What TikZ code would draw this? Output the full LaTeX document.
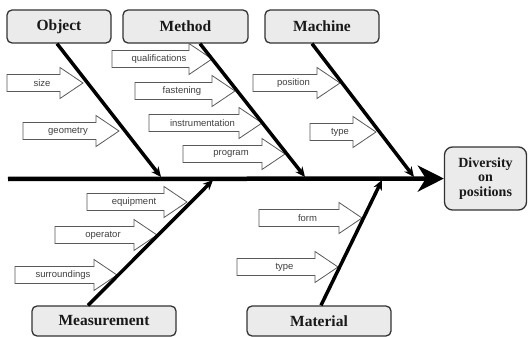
\documentclass[tikz,border=0pt]{standalone}
\usepackage{fontspec}
\setmainfont{Liberation Serif}
\newfontfamily\causefont{Liberation Sans}
\usetikzlibrary{arrows.meta}

% one hollow cause arrow: name, left x, tip x, y, text
\newcommand{\factor}[5]{%
  \draw[hollow] (#2,#4-8.5) -- (#3-23,#4-8.5) -- (#3-23,#4-15.5) -- (#3,#4)
      -- (#3-23,#4+15.5) -- (#3-23,#4+8.5) -- (#2,#4+8.5) -- cycle;
  \node[causetext] (#1) at ({(#2+#3)/2-3},#4) {#5};
}

\begin{document}
\begin{tikzpicture}[x=1pt,y=-1pt,
    cat/.style={draw=black!80,line width=1.3pt,rounded corners=5pt,fill=black!8,
      font=\bfseries\fontsize{15.5}{17}\selectfont,text=black!90},
    bone/.style={line width=3.5pt,-{Stealth[length=10pt,width=9pt]}},
    hollow/.style={draw=black!65,line width=0.8pt,fill=white},
    causetext/.style={font=\causefont\fontsize{9.5}{11}\selectfont,text=black!75,inner sep=0pt}]
    \useasboundingbox (0,0) rectangle (528,337);

    \node[cat,minimum width=104pt,minimum height=33pt] (object) at (59,26.5) {Object};
    \node[cat,minimum width=125pt,minimum height=33pt] (method) at (185.5,26.5) {Method};
    \node[cat,minimum width=114pt,minimum height=33pt] (machine) at (322,26.5) {Machine};
    \node[cat,minimum width=144pt,minimum height=30pt] (measurement) at (104,321) {Measurement};
    \node[cat,minimum width=144pt,minimum height=30pt] (material) at (319,321) {Material};
    \node[cat,rounded corners=8pt,minimum width=82pt,minimum height=63pt,align=center,
      font=\bfseries\fontsize{14}{14.5}\selectfont] (diversity) at (485.5,178.5) {Diversity\\on\\positions};

    \coordinate (tail) at (8,179);
    \coordinate (objtip) at (161,177);
    \coordinate (methtip) at (305,177);
    \coordinate (machtip) at (414,177);
    \coordinate (meastip) at (213,180);
    \coordinate (mattip) at (382,180);

    % causes
    \factor{size}{7}{83}{83}{size}
    \factor{geometry}{23}{119}{131}{geometry}
    \factor{qualifications}{112}{212}{59}{qualifications}
    \factor{fastening}{135}{235}{91}{fastening}
    \factor{instrumentation}{149}{262}{123}{instrumentation}
    \factor{program}{183}{285}{154}{program}
    \factor{position}{253}{340}{83}{position}
    \factor{machtype}{310}{376}{132}{type}
    \factor{equipment}{87}{187}{202}{equipment}
    \factor{operator}{55}{157}{235}{operator}
    \factor{surroundings}{15}{117}{275}{surroundings}
    \factor{form}{259}{362}{218}{form}
    \factor{mattype}{237}{338}{267}{type}

    \draw[line width=4.5pt,-{Stealth[length=26pt,width=26pt,inset=8pt]}] (tail) -- (diversity);
    \draw[bone] ([xshift=-2pt]object.south) -- (objtip);
    \draw[bone] ([xshift=14.5pt]method.south) -- (methtip);
    \draw[bone] ([xshift=-10pt]machine.south) -- (machtip);
    \draw[bone] ([xshift=-16pt]measurement.north) -- (meastip);
    \draw[bone] ([xshift=2pt]material.north) -- (mattip);
\end{tikzpicture}
\end{document}
